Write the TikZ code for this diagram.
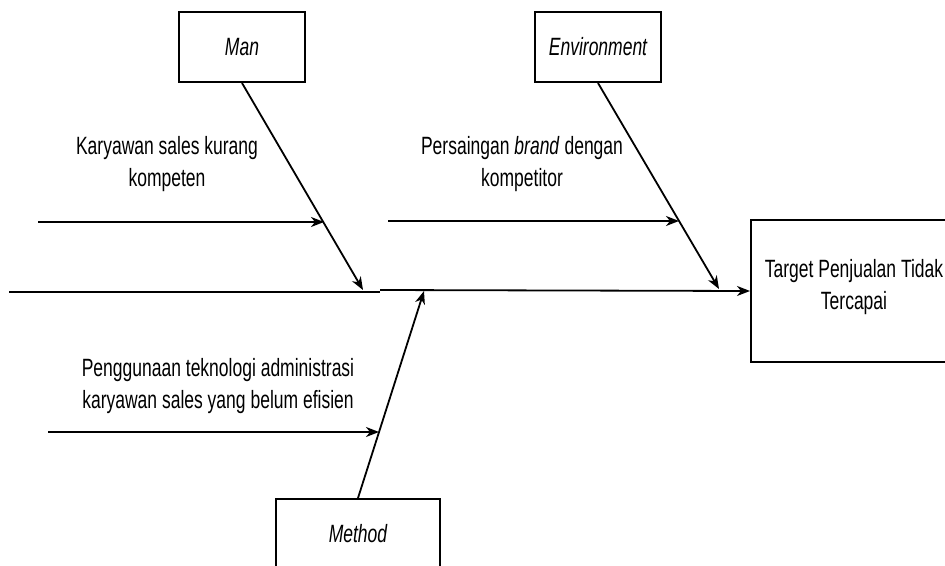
\documentclass[tikz,border=0pt]{standalone}
\usepackage{fontspec}
\setmainfont{Liberation Sans}[FakeStretch=0.7]
\usepackage{tikz}
\usetikzlibrary{arrows.meta,positioning,calc}

\tikzset{
  catbox/.style={draw,line width=2pt,minimum width=126pt,minimum height=70pt,
    font=\fontsize{25}{32}\selectfont\itshape},
  causetext/.style={align=center,font=\fontsize{25}{32}\selectfont},
  bone/.style={line width=1.8pt,-{Stealth[length=13pt,width=10pt,inset=4pt]}}
}

\begin{document}
\begin{tikzpicture}[x=1pt,y=-1pt]
  \clip (0,0) rectangle (945,565);
  \fill[white] (0,0) rectangle (945,565);

  % kategori
  \node[catbox] (man) at (242,47) {Man};
  \node[catbox] (env) at (598,47) {Environment};
  \node[catbox,minimum width=164pt] (method) at (358,534) {Method};
  \node[draw,line width=2pt,minimum width=206pt,minimum height=142pt] (target) at (854,291) {};
  \node[causetext] (targetText) at ($(target.center)+(0,-4)$) {Target Penjualan Tidak\\Tercapai};

  % penyebab
  \node[causetext] (manText) at (167,164) {Karyawan sales kurang\\kompeten};
  \node[causetext] (envText) at (522,164) {Persaingan \textit{brand} dengan\\kompetitor};
  \node[causetext] (methodText) at (218,386) {Penggunaan teknologi administrasi\\karyawan sales yang belum efisien};

  % titik tulang
  \coordinate (spineL) at (9,292);
  \coordinate (spineM) at (380,292);
  \coordinate (spineN) at (380,290);
  \coordinate (manTip) at (363,290);
  \coordinate (envTip) at (719,289);
  \coordinate (methodTip) at (424,291);
  \coordinate (manStart) at (38,222);
  \coordinate (manEnd) at (324,222);
  \coordinate (envStart) at (388,221);
  \coordinate (envEnd) at (679,221);
  \coordinate (methodStart) at (48,432);
  \coordinate (methodEnd) at (379,432);

  % tulang utama
  \draw[line width=1.8pt] (spineL) -- (spineM);
  \draw[bone] (spineN) -- (target.west);

  \draw[bone] (man.south) -- (manTip);
  \draw[bone] (env.south) -- (envTip);
  \draw[bone] (method.north) -- (methodTip);

  \draw[bone] (manStart) -- (manEnd);
  \draw[bone] (envStart) -- (envEnd);
  \draw[bone] (methodStart) -- (methodEnd);
\end{tikzpicture}
\end{document}
